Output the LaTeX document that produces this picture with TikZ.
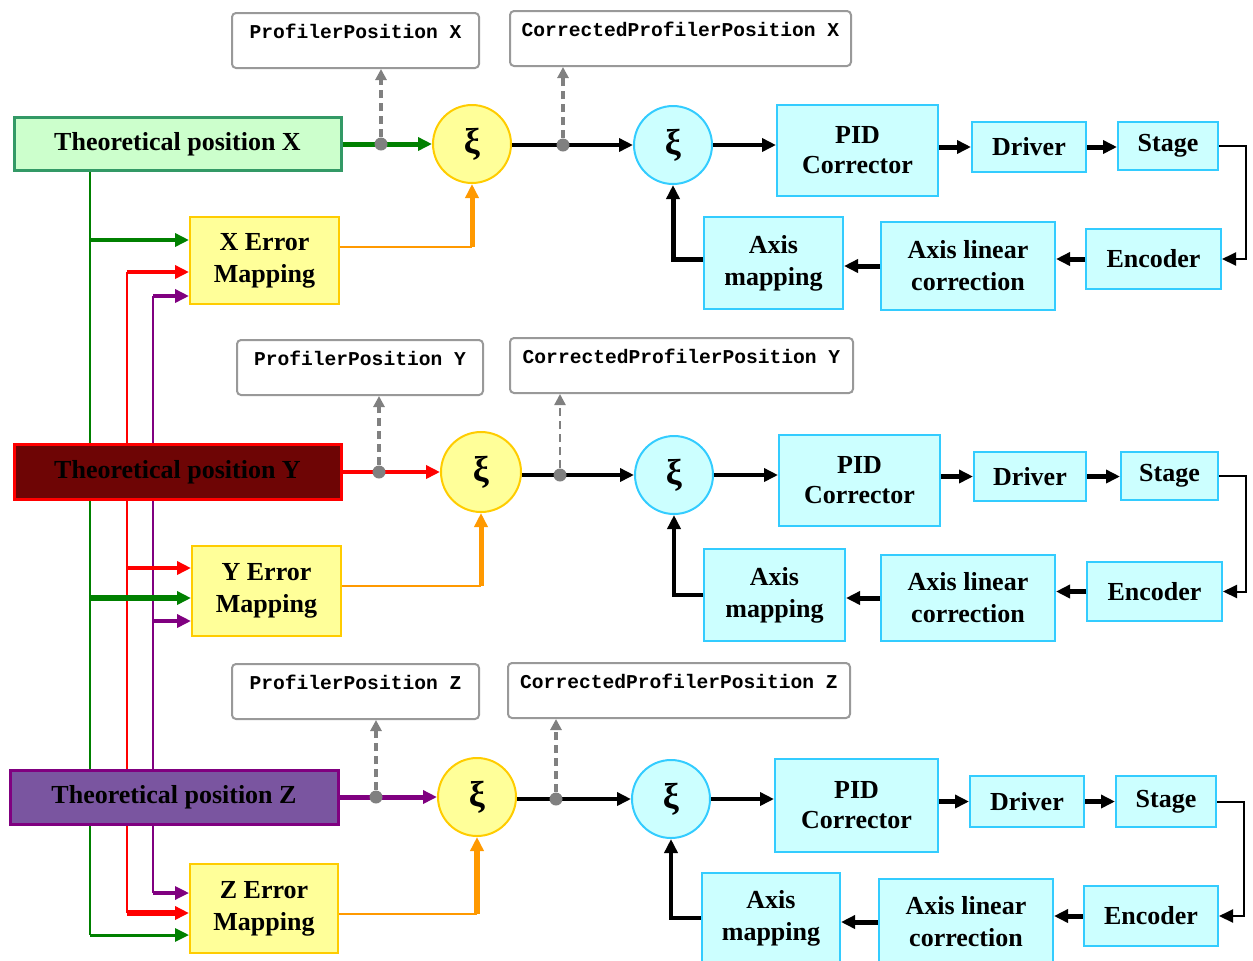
\documentclass[tikz,border=0pt]{standalone}
\usepackage{fontspec}
\setmainfont{Liberation Serif}
\setmonofont{Liberation Mono}
\usepackage{tikz}
\usepackage{xcolor}
\usetikzlibrary{arrows.meta, shapes.geometric, positioning}

\definecolor{boxcyan}{HTML}{CCFFFF}
\definecolor{edgecyan}{HTML}{33CCFF}
\definecolor{boxyel}{HTML}{FFFF99}
\definecolor{edgeyel}{HTML}{FFCC00}
\definecolor{boxgreen}{HTML}{CCFFCC}
\definecolor{edgegreen}{HTML}{339966}
\definecolor{flowgreen}{HTML}{008000}
\definecolor{flowred}{HTML}{FF0000}
\definecolor{flowpurple}{HTML}{800080}
\definecolor{floworange}{HTML}{FF9900}
\definecolor{tapgray}{HTML}{808080}
\definecolor{boxdarkred}{HTML}{6E0505}
\definecolor{boxpurple}{HTML}{7A55A0}

\begin{document}
\begin{tikzpicture}[x=0.5pt, y=-0.5pt,
  font=\bfseries\fontsize{13}{16}\selectfont,
  sz/.style 2 args={minimum width=#1*0.5pt, minimum height=#2*0.5pt},
  blk/.style={rectangle, draw=edgecyan, fill=boxcyan, line width=1pt, align=center, inner sep=0pt},
  err/.style={rectangle, draw=edgeyel, fill=boxyel, line width=1pt, align=center, inner sep=0pt},
  theo/.style={rectangle, line width=1.5pt, inner sep=0pt},
  lbl/.style={rectangle, rounded corners=2pt, draw=tapgray!80, line width=1pt, fill=white, anchor=north west,
    inner sep=0pt, text height=12.7pt, text depth=14.8pt, font=\ttfamily\bfseries\fontsize{9.8}{11}\selectfont},
  sumin/.style={circle, draw=edgeyel, fill=boxyel, line width=1pt, minimum size=39pt, inner sep=0pt,
    font=\bfseries\fontsize{18}{18}\selectfont},
  sumfb/.style={circle, draw=edgecyan, fill=boxcyan, line width=1pt, minimum size=39pt, inner sep=0pt,
    font=\bfseries\fontsize{18}{18}\selectfont},
  tip/.style={-{Triangle[length=7pt, width=6.5pt]}},
  tap/.style={tapgray, dash pattern=on 4pt off 2.5pt, line width=2pt, -{Triangle[length=5.5pt, width=5.5pt]}},
  dot/.style={circle, fill=tapgray, minimum size=6.5pt, inner sep=0pt},
  trunk/.style={line width=1pt}]

\useasboundingbox (0,0) rectangle (1253,960);

% trunks down the left side
\coordinate (gTop) at (90,170);
\coordinate (gX) at (90,240);
\coordinate (gY) at (90,598);
\coordinate (gZ) at (90,935);
\coordinate (rX) at (127,272);
\coordinate (rY) at (127,568);
\coordinate (rZ) at (127,913);
\coordinate (pX) at (153,296);
\coordinate (pY) at (153,621);
\coordinate (pZ) at (153,893);

\draw[flowgreen, trunk] (gTop) -- (gZ);
\draw[flowred, trunk] (rX) -- (rZ);
\draw[flowpurple, trunk] (pX) -- (pZ);

% X axis
\node[lbl, minimum width=247*0.5pt] (profX) at (231,12) {ProfilerPosition X};
\node[lbl, minimum width=341*0.5pt] (corrX) at (509,10) {CorrectedProfilerPosition X};
\node[theo, draw=edgegreen, fill=boxgreen, sz={327}{53}] (thX) at (177.5,144) {Theoretical position X};
\node[sumin] (sumX) at (472,144) {ξ};
\node[sumfb] (loopX) at (673,145) {ξ};
\node[blk, sz={161}{91}, font=\bfseries\fontsize{13}{15}\selectfont] (pidX) at (857.5,150.5) {PID\\Corrector};
\node[blk, sz={114}{50}] (drvX) at (1029,147) {Driver};
\node[blk, sz={100}{48}] (stgX) at (1168,146) {Stage};
\node[blk, sz={135}{60}] (encX) at (1153.5,259) {Encoder};
\node[blk, sz={174}{88}] (linX) at (968,266) {Axis linear\\correction};
\node[blk, sz={139}{92}] (mapX) at (773.5,263) {Axis\\mapping};
\node[err, sz={149}{87}] (errX) at (264.5,260.5) {X Error\\Mapping};

\draw[flowgreen, line width=2.5pt, tip] (thX) -- (sumX);
\draw[line width=2pt, tip] (sumX.east |- loopX) -- (loopX);
\node[dot] (tpX) at (381,144) {};
\node[dot] (tcX) at (563,145) {};
\draw[tap] (tpX) -- (tpX |- profX.south);
\draw[tap] (tcX) -- (tcX |- corrX.south);
\draw[line width=2pt, tip] (loopX.east) -- (loopX.east -| pidX.west);
\draw[line width=2.5pt, tip] (pidX.east |- drvX) -- (drvX.west);
\draw[line width=2.5pt, tip] (drvX.east) -- (drvX.east -| stgX.west);
\draw[line width=1pt, tip] (stgX.east) -- ++(27,0) |- (encX.east);
\draw[line width=2.5pt, tip] (encX.west) -- (encX.west -| linX.east);
\draw[line width=2.5pt, tip] (linX.west) -- (linX.west -| mapX.east);
\draw[line width=2.5pt, tip] ([yshift=2pt]mapX.west) -| (loopX.south);
\draw[floworange, line width=1pt] ([yshift=7pt]errX.east) -- ([yshift=7pt]errX.east -| sumX.south);
\draw[floworange, line width=2.5pt, tip] ([yshift=7pt]errX.east -| sumX.south) -- (sumX.south);
\draw[flowgreen, line width=2.2pt, tip] (gX) -- (gX -| errX.west);
\draw[flowred, line width=2pt, tip] (rX) -- (rX -| errX.west);
\draw[flowpurple, line width=1.8pt, tip] (pX) -- (pX -| errX.west);

% Y axis
\node[lbl, minimum width=246*0.5pt] (profY) at (236,339) {ProfilerPosition Y};
\node[lbl, minimum width=343*0.5pt] (corrY) at (509,337) {CorrectedProfilerPosition Y};
\node[theo, draw=flowred, fill=boxdarkred, sz={327}{55}] (thY) at (177.5,472) {Theoretical position Y};
\node[sumin, minimum size=40pt] (sumY) at (481,472) {ξ};
\node[sumfb] (loopY) at (674,475) {ξ};
\node[blk, sz={161}{91}, font=\bfseries\fontsize{13}{15}\selectfont] (pidY) at (859.5,480.5) {PID\\Corrector};
\node[blk, sz={112}{49}] (drvY) at (1030,476.5) {Driver};
\node[blk, sz={97}{48}] (stgY) at (1169.5,476) {Stage};
\node[blk, sz={135}{59}] (encY) at (1154.5,591.5) {Encoder};
\node[blk, sz={174}{86}] (linY) at (968,598) {Axis linear\\correction};
\node[blk, sz={141}{92}] (mapY) at (774.5,595) {Axis\\mapping};
\node[err, sz={149}{90}] (errY) at (266.5,591) {Y Error\\Mapping};

\draw[flowred, line width=2pt, tip] (thY) -- (sumY);
\draw[line width=2pt, tip] (sumY.east |- loopY) -- (loopY);
\node[dot] (tpY) at (379,472) {};
\node[dot] (tcY) at (560,475) {};
\draw[tap] (tpY) -- (tpY |- profY.south);
\draw[tap, line width=1.2pt] (tcY) -- (tcY |- corrY.south);
\draw[line width=2pt, tip] (loopY.east) -- (loopY.east -| pidY.west);
\draw[line width=2.5pt, tip] (pidY.east |- drvY) -- (drvY.west);
\draw[line width=2.5pt, tip] (drvY.east) -- (drvY.east -| stgY.west);
\draw[line width=1pt, tip] (stgY.east) -- ++(27,0) |- (encY.east);
\draw[line width=2.5pt, tip] (encY.west) -- (encY.west -| linY.east);
\draw[line width=2.5pt, tip] (linY.west) -- (linY.west -| mapY.east);
\draw[line width=2pt, tip] (mapY.west) -| (loopY.south);
\draw[floworange, line width=1pt] ([yshift=2.5pt]errY.east) -- ([yshift=2.5pt]errY.east -| sumY.south);
\draw[floworange, line width=2.5pt, tip] ([yshift=2.5pt]errY.east -| sumY.south) -- (sumY.south);
\draw[flowred, line width=2pt, tip] (rY) -- (rY -| errY.west);
\draw[flowgreen, line width=3pt, tip] (gY) -- (gY -| errY.west);
\draw[flowpurple, line width=1.8pt, tip] (pY) -- (pY -| errY.west);

% Z axis
\node[lbl, minimum width=247*0.5pt] (profZ) at (231,663) {ProfilerPosition Z};
\node[lbl, minimum width=342*0.5pt] (corrZ) at (507,662) {CorrectedProfilerPosition Z};
\node[theo, draw=flowpurple, fill=boxpurple, sz={328}{54}] (thZ) at (174,797) {Theoretical position Z};
\node[sumin] (sumZ) at (477,797) {ξ};
\node[sumfb] (loopZ) at (671,799) {ξ};
\node[blk, sz={163}{93}, font=\bfseries\fontsize{13}{15}\selectfont] (pidZ) at (856.5,805.5) {PID\\Corrector};
\node[blk, sz={114}{51}] (drvZ) at (1027,801.5) {Driver};
\node[blk, sz={100}{51}] (stgZ) at (1166,801.5) {Stage};
\node[blk, sz={134}{60}] (encZ) at (1151,916) {Encoder};
\node[blk, sz={174}{86}] (linZ) at (966,922) {Axis linear\\correction};
\node[blk, sz={138}{90}] (mapZ) at (771,918) {Axis\\mapping};
\node[err, sz={148}{89}] (errZ) at (264,908.5) {Z Error\\Mapping};

\draw[flowpurple, line width=2.5pt, tip] (thZ) -- (sumZ);
\draw[line width=2pt, tip] (sumZ.east |- loopZ) -- (loopZ);
\node[dot] (tpZ) at (376,797) {};
\node[dot] (tcZ) at (556,799) {};
\draw[tap] (tpZ) -- (tpZ |- profZ.south);
\draw[tap] (tcZ) -- (tcZ |- corrZ.south);
\draw[line width=2pt, tip] (loopZ.east) -- (loopZ.east -| pidZ.west);
\draw[line width=2.5pt, tip] (pidZ.east |- drvZ) -- (drvZ.west);
\draw[line width=2.5pt, tip] (drvZ.east) -- (drvZ.east -| stgZ.west);
\draw[line width=1pt, tip] (stgZ.east) -- ++(27,0) |- (encZ.east);
\draw[line width=2.5pt, tip] (encZ.west) -- (encZ.west -| linZ.east);
\draw[line width=2.5pt, tip] (linZ.west) -- (linZ.west -| mapZ.east);
\draw[line width=2pt, tip] (mapZ.west) -| (loopZ.south);
\draw[floworange, line width=1pt] ([yshift=-2.5pt]errZ.east) -- ([yshift=-2.5pt]errZ.east -| sumZ.south);
\draw[floworange, line width=3pt, tip] ([yshift=-2.5pt]errZ.east -| sumZ.south) -- (sumZ.south);
\draw[flowpurple, line width=1.6pt, tip] (pZ) -- (pZ -| errZ.west);
\draw[flowred, line width=3pt, tip] (rZ) -- (rZ -| errZ.west);
\draw[flowgreen, line width=1.5pt, tip] (gZ) -- (gZ -| errZ.west);

\end{tikzpicture}
\end{document}
